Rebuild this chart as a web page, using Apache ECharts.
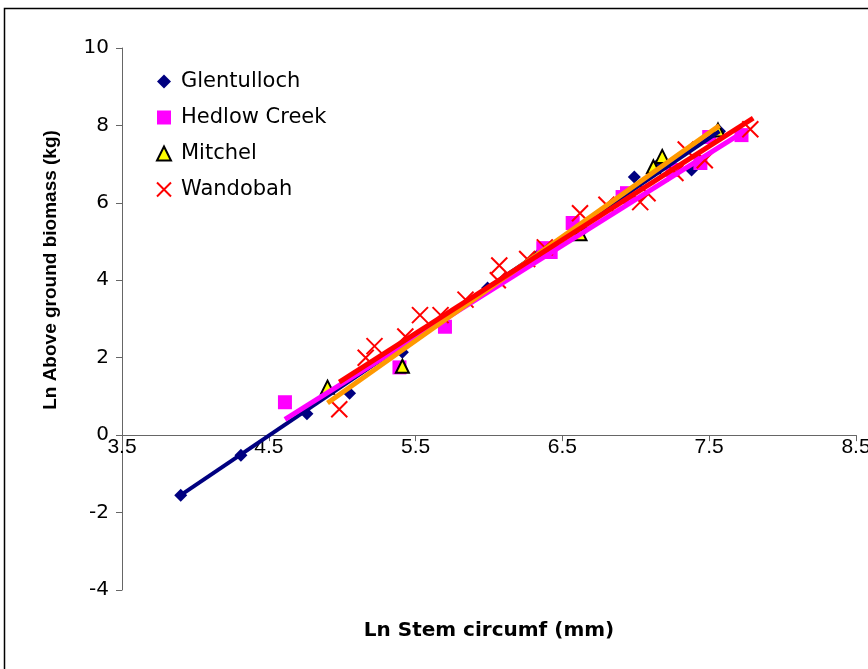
<!DOCTYPE html>
<html>
<head>
<meta charset="utf-8">
<script src="https://cdn.jsdelivr.net/npm/echarts@6/dist/echarts.min.js"></script>
<style>html,body{margin:0;padding:0;background:#fff;}#chart{width:868px;height:669px;}</style>
</head>
<body>
<div id="chart"></div>
<script>
const seriesNames = ['Glentulloch', 'Hedlow Creek', 'Mitchel', 'Wandobah'];
const xTicks = [3.5, 4.5, 5.5, 6.5, 7.5, 8.5];
const yTicks = [-4, -2, 0, 2, 4, 6, 8, 10];

const glentulloch = [[3.90,-1.55],[4.31,-0.52],[4.76,0.55],[5.05,1.08],[5.41,2.14],[5.99,3.80],[6.34,4.68],[6.64,5.30],[6.99,6.67],[7.14,6.95],[7.38,6.85],[7.57,7.85]];
const hedlowCreek = [[4.61,0.85],[5.39,1.75],[5.70,2.80],[6.37,4.83],[6.42,4.73],[6.57,5.48],[6.91,6.15],[6.94,6.25],[7.25,6.85],[7.44,7.03],[7.50,7.70],[7.72,7.75]];
const mitchel = [[4.90,1.24],[5.41,1.78],[6.62,5.20],[7.12,6.93],[7.18,7.20],[7.56,7.88]];
const wandobah = [[4.98,0.67],[5.16,2.00],[5.22,2.30],[5.43,2.55],[5.53,3.10],[5.67,3.10],[5.84,3.50],[6.06,4.00],[6.07,4.38],[6.26,4.55],[6.38,4.85],[6.62,5.73],[6.80,5.95],[7.03,6.02],[7.08,6.25],[7.27,6.77],[7.34,7.38],[7.47,7.10],[7.78,7.90]];

const trendGlentulloch = [[3.90,-1.55],[7.57,7.85]];
const trendHedlow = [[4.61,0.41],[7.72,7.80]];
const trendMitchel = [[4.90,0.83],[7.57,8.00]];
const trendWandobah = [[4.98,1.37],[7.80,8.19]];

const FONT = 'Liberation Sans, Arial, sans-serif';
const WIDE = 'DejaVu Sans, sans-serif';
const GRID = { left: 122, right: 12, top: 48, bottom: 79 };
const plotH = 669 - GRID.top - GRID.bottom;
const yMin = yTicks[0], yMax = yTicks[yTicks.length - 1];
// move the x axis (line, ticks, labels) up to the y = 0 level
const xAxisOffset = -plotH * (0 - yMin) / (yMax - yMin);

const chart = echarts.init(document.getElementById('chart'));

function trend(data, color, width) {
  return { type: 'line', data: data, symbol: 'none', silent: true, z: 3,
    lineStyle: { color: color, width: width }, legendHoverLink: false };
}

chart.setOption({
  animation: false,
  backgroundColor: '#fff',
  graphic: [{ type: 'rect', shape: { x: 4.5, y: 8.5, width: 900, height: 700 },
    style: { fill: 'none', stroke: '#000', lineWidth: 1.5 }, silent: true }],
  grid: Object.assign({ outerBoundsMode: 'none' }, GRID),
  legend: {
    orient: 'vertical', left: 156, top: 71, padding: 0, itemGap: 15, itemWidth: 14, itemHeight: 14,
    data: seriesNames, textStyle: { fontFamily: WIDE, fontSize: 21, color: '#000', padding: [0, 0, 0, 5] }
  },
  xAxis: {
    type: 'value', position: 'bottom', offset: xAxisOffset,
    min: xTicks[0], max: xTicks[xTicks.length - 1], interval: 1,
    name: 'Ln Stem circumf (mm)', nameLocation: 'middle', nameGap: 186,
    nameTextStyle: { fontFamily: WIDE, fontSize: 20, fontWeight: 'bold', color: '#000' },
    axisLine: { onZero: false, lineStyle: { color: '#666', width: 1 } },
    axisTick: { show: true, inside: false, length: 6, lineStyle: { color: '#666' } },
    axisLabel: { fontFamily: FONT, fontSize: 21, color: '#000', margin: 2,
      formatter: v => v.toFixed(1) },
    splitLine: { show: false }
  },
  yAxis: {
    type: 'value', min: yMin, max: yMax, interval: 2,
    name: 'Ln Above ground biomass (kg)', nameLocation: 'middle', nameGap: 62,
    nameTextStyle: { fontFamily: FONT, fontSize: 19, fontWeight: 'bold', color: '#000', padding: [0, 0, 0, 98] },
    axisLine: { onZero: false, lineStyle: { color: '#666', width: 1 } },
    axisTick: { show: true, inside: false, length: 6, lineStyle: { color: '#666' } },
    axisLabel: { fontFamily: WIDE, fontSize: 20, color: '#000', margin: 13 },
    splitLine: { show: false }
  },
  series: [
    { name: seriesNames[0], type: 'scatter', data: glentulloch, symbol: 'diamond', symbolSize: 13,
      itemStyle: { color: '#000080', opacity: 1 }, z: 2 },
    { name: seriesNames[1], type: 'scatter', data: hedlowCreek, symbol: 'rect', symbolSize: 14,
      itemStyle: { color: '#FF00FF', opacity: 1 }, z: 2 },
    { name: seriesNames[2], type: 'scatter', data: mitchel, symbol: 'triangle', symbolSize: 13,
      itemStyle: { color: '#FFFF00', borderColor: '#000', borderWidth: 2, opacity: 1 }, z: 2 },
    { name: seriesNames[3], type: 'scatter', data: wandobah, symbol: 'path://M0,0L10,10M10,0L0,10', symbolSize: 16,
      itemStyle: { color: 'rgba(0,0,0,0)', borderColor: '#FF0000', borderWidth: 2, opacity: 1 }, z: 2 },
    trend(trendGlentulloch, '#000080', 4),
    trend(trendHedlow, '#FF00FF', 5),
    trend(trendMitchel, '#FF9900', 5),
    trend(trendWandobah, '#FF0000', 5)
  ]
});
</script>
</body>
</html>
